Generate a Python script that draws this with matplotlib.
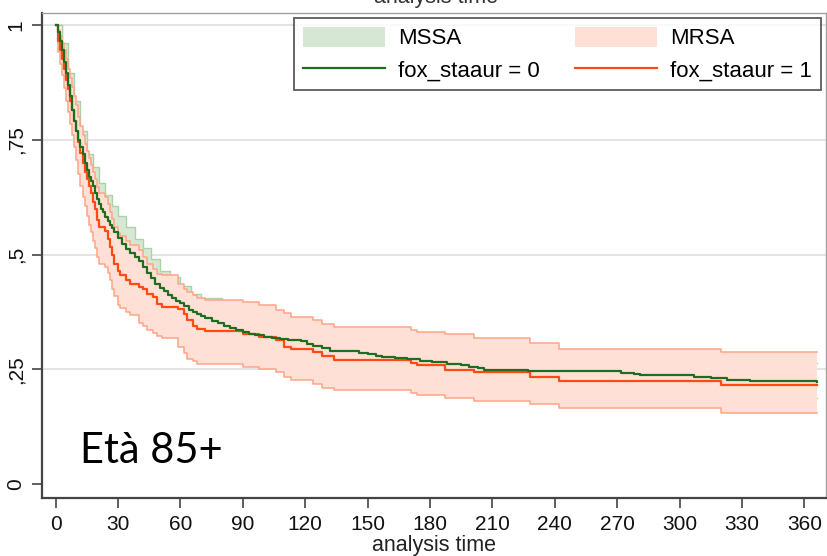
import matplotlib
matplotlib.use("Agg")
import matplotlib.pyplot as plt
from matplotlib.patches import Patch
from matplotlib.lines import Line2D

# Kaplan-Meier estimates, age group 85+
# MSSA (fox_staaur = 0)
mssa_t = [0, 1, 2, 3, 4, 5, 6, 7, 8, 9, 10, 11, 12, 13, 14, 15, 16, 17, 18, 19,
          20, 21, 22, 23, 24, 25, 26, 27, 28, 30, 32, 34, 36, 38, 40, 42, 44, 46,
          48, 50, 52, 54, 56, 58, 60, 62, 64, 66, 68, 70, 72, 75, 78, 81, 84, 87,
          90, 93, 96, 100, 104, 108, 112, 118, 121, 124, 128, 132, 140, 146, 150,
          154, 157, 163, 169, 175, 181, 188, 195, 199, 203, 206, 227, 272, 278,
          281, 307, 315, 323, 334, 366]
mssa_s = [1.0, 0.985, 0.965, 0.945, 0.92, 0.895, 0.87, 0.845, 0.815, 0.79, 0.77,
          0.75, 0.735, 0.72, 0.70, 0.685, 0.67, 0.66, 0.65, 0.635, 0.62, 0.61,
          0.60, 0.593, 0.582, 0.573, 0.565, 0.557, 0.55, 0.537, 0.523, 0.512,
          0.503, 0.494, 0.485, 0.472, 0.46, 0.448, 0.437, 0.428, 0.42, 0.413,
          0.405, 0.399, 0.394, 0.388, 0.38, 0.375, 0.37, 0.366, 0.361, 0.355,
          0.35, 0.345, 0.34, 0.335, 0.331, 0.327, 0.324, 0.321, 0.318, 0.316,
          0.313, 0.311, 0.306, 0.302, 0.296, 0.291, 0.289, 0.286, 0.284, 0.28,
          0.277, 0.275, 0.272, 0.268, 0.266, 0.262, 0.259, 0.256, 0.252, 0.248,
          0.246, 0.243, 0.24, 0.237, 0.234, 0.231, 0.228, 0.225, 0.222]

mssa_ci_t = [0, 3, 6, 9, 12, 15, 18, 21, 24, 27, 30, 34, 38, 42, 46, 50, 55, 60,
             65, 70, 80, 90, 100, 120, 140, 160, 180, 200, 230, 280, 320, 340, 366]
mssa_hi = [1.0, 0.96, 0.895, 0.835, 0.77, 0.72, 0.69, 0.655, 0.63, 0.605, 0.585,
           0.56, 0.535, 0.515, 0.49, 0.465, 0.452, 0.432, 0.415, 0.405, 0.385,
           0.37, 0.358, 0.34, 0.325, 0.313, 0.303, 0.294, 0.284, 0.274, 0.266,
           0.263, 0.263]
mssa_lo = [1.0, 0.92, 0.835, 0.75, 0.69, 0.64, 0.605, 0.57, 0.545, 0.52, 0.50,
           0.475, 0.455, 0.43, 0.41, 0.39, 0.372, 0.358, 0.345, 0.33, 0.315,
           0.297, 0.287, 0.277, 0.255, 0.245, 0.235, 0.225, 0.215, 0.205, 0.197,
           0.188, 0.188]

# MRSA (fox_staaur = 1)
mrsa_t = [0, 1, 2, 3, 4, 5, 6, 7, 8, 9, 10, 11, 12, 13, 14, 15, 16, 17, 18, 19,
          20, 21, 24, 25, 26, 27, 28, 30, 31, 34, 36, 40, 42, 44, 47, 49, 51, 59,
          62, 63, 66, 68, 72, 90, 98, 106, 110, 113, 124, 128, 134, 171, 174,
          187, 201, 228, 242, 320, 366]
mrsa_s = [1.0, 0.965, 0.945, 0.925, 0.905, 0.88, 0.86, 0.835, 0.815, 0.79, 0.77,
          0.745, 0.722, 0.70, 0.68, 0.665, 0.65, 0.635, 0.615, 0.60, 0.575, 0.56,
          0.552, 0.535, 0.516, 0.50, 0.48, 0.465, 0.455, 0.445, 0.436, 0.429,
          0.425, 0.415, 0.407, 0.393, 0.386, 0.382, 0.37, 0.357, 0.345, 0.338,
          0.333, 0.327, 0.32, 0.313, 0.298, 0.295, 0.288, 0.279, 0.27, 0.265,
          0.259, 0.249, 0.244, 0.233, 0.225, 0.215, 0.215]
mrsa_hi = [1.0, 0.99, 0.975, 0.96, 0.945, 0.925, 0.905, 0.885, 0.865, 0.845,
           0.825, 0.80, 0.78, 0.76, 0.74, 0.725, 0.71, 0.695, 0.68, 0.665, 0.648,
           0.635, 0.625, 0.61, 0.592, 0.578, 0.56, 0.548, 0.54, 0.53, 0.52, 0.51,
           0.495, 0.48, 0.468, 0.458, 0.455, 0.436, 0.425, 0.418, 0.412, 0.405,
           0.402, 0.396, 0.39, 0.38, 0.372, 0.365, 0.357, 0.349, 0.342, 0.336,
           0.331, 0.327, 0.318, 0.308, 0.295, 0.287, 0.287]
mrsa_lo = [1.0, 0.94, 0.915, 0.89, 0.862, 0.835, 0.81, 0.785, 0.76, 0.735, 0.705,
           0.675, 0.65, 0.625, 0.605, 0.585, 0.565, 0.55, 0.53, 0.515, 0.495,
           0.48, 0.472, 0.46, 0.445, 0.425, 0.41, 0.39, 0.383, 0.375, 0.368,
           0.352, 0.345, 0.335, 0.33, 0.322, 0.318, 0.298, 0.285, 0.273, 0.268,
           0.262, 0.262, 0.255, 0.25, 0.244, 0.233, 0.226, 0.219, 0.21, 0.206,
           0.199, 0.195, 0.188, 0.181, 0.174, 0.165, 0.155, 0.155]

x_ticks = [0, 30, 60, 90, 120, 150, 180, 210, 240, 270, 300, 330, 360]
y_ticks = [0, 0.25, 0.5, 0.75, 1.0]
y_tick_labels = ["0", ",25", ",5", ",75", "1"]

GREEN_LINE = "#1f6e1f"
GREEN_FILL = "#d6e8d4"
GREEN_EDGE = "#acd3a8"
ORANGE_LINE = "#ff4a14"
PINK_FILL = "#ffe0d6"
PINK_EDGE = "#ffa488"

plt.rcParams["font.family"] = ["Liberation Sans", "DejaVu Sans"]

fig = plt.figure(figsize=(8.28, 5.56), dpi=100)
ax = fig.add_axes([42 / 828, 1 - 498 / 556, 784 / 828, 485 / 556])

# confidence bands
ax.fill_between(mssa_ci_t, mssa_lo, mssa_hi, step="post", color=GREEN_FILL,
                lw=0, zorder=1)
ax.step(mssa_ci_t, mssa_hi, where="post", color=GREEN_EDGE, lw=1.0, zorder=1.1)
ax.step(mssa_ci_t, mssa_lo, where="post", color=GREEN_EDGE, lw=1.0, zorder=1.1)

ax.fill_between(mrsa_t, mrsa_lo, mrsa_hi, step="post", color=PINK_FILL,
                lw=0, zorder=2)
ax.step(mrsa_t, mrsa_hi, where="post", color=PINK_EDGE, lw=1.1, zorder=2.1)
ax.step(mrsa_t, mrsa_lo, where="post", color=PINK_EDGE, lw=1.1, zorder=2.1)

# survivor functions
ax.step(mssa_t, mssa_s, where="post", color=GREEN_LINE, lw=1.6, zorder=4)
ax.step(mrsa_t, mrsa_s, where="post", color=ORANGE_LINE, lw=1.6, zorder=3)

for yv in y_ticks[1:]:
    ax.axhline(yv, color="#e4e4e4", lw=1.4, zorder=0)

ax.set_xlim(-6.5, 370.4)
ax.set_ylim(-0.03, 1.026)
ax.set_xticks(x_ticks)
ax.set_yticks(y_ticks)
ax.set_yticklabels(y_tick_labels, rotation=90, va="center")
ax.tick_params(axis="both", length=7, width=1.2, color="#444444",
               labelsize=15, pad=5, labelcolor="#111111")

for side in ("left", "bottom"):
    ax.spines[side].set_color("#444444")
    ax.spines[side].set_linewidth(1.6)
for side in ("top", "right"):
    ax.spines[side].set_color("#a0a0a0")
    ax.spines[side].set_linewidth(1.0)

ax.set_xlabel("analysis time", fontsize=15.5, labelpad=1, color="#222222")

# header line partially cut off at the top edge
fig.text(0.527, 1 - 3 / 556, "analysis time", fontsize=15.5, ha="center",
         va="baseline", color="#333333")

ax.text((80 - 42) / 784, (498 - 463) / 485, "Età 85+", transform=ax.transAxes,
        fontsize=30, family=["Lato", "DejaVu Sans"], va="baseline", ha="left",
        color="#000000")

handles = [
    Patch(facecolor=GREEN_FILL, edgecolor="none"),
    Line2D([], [], color=GREEN_LINE, lw=1.6),
    Patch(facecolor=PINK_FILL, edgecolor="none"),
    Line2D([], [], color=ORANGE_LINE, lw=1.6),
]
labels = ["MSSA", "fox_staaur = 0", "MRSA", "fox_staaur = 1"]
leg = ax.legend(handles, labels, ncol=2, loc="upper right",
                bbox_to_anchor=((821 - 42) / 784, (498 - 18) / 485),
                fontsize=16, frameon=True, fancybox=False,
                edgecolor="#333333", handlelength=3.7, handleheight=1.0,
                handletextpad=0.58, labelspacing=0.42, borderpad=0.4,
                borderaxespad=0.0, columnspacing=1.6)
leg.get_frame().set_linewidth(1.3)
leg.set_zorder(10)

fig.savefig("out.png", dpi=100)
